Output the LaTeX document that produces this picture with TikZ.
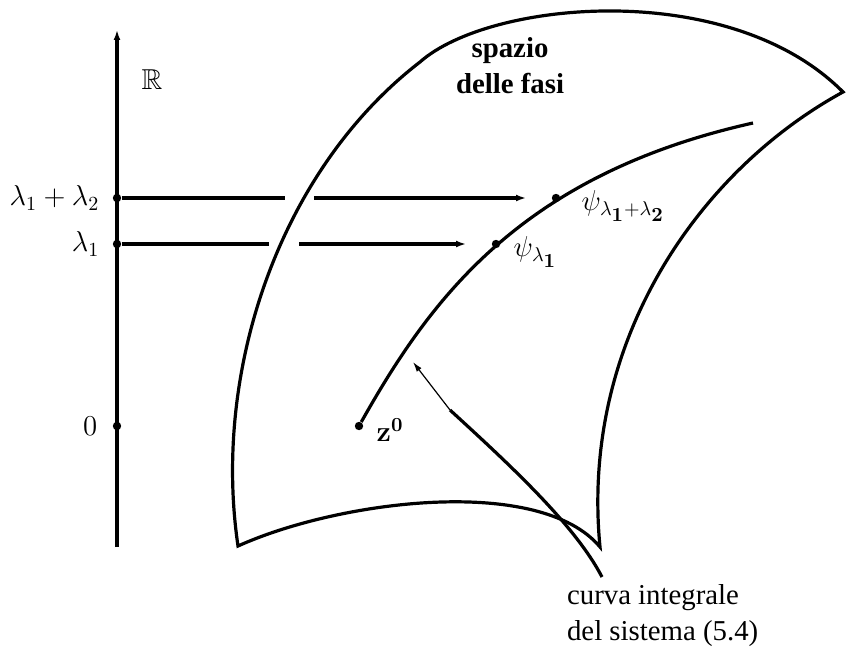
\documentclass[tikz,border=0pt]{standalone}
\usepackage{amsmath}
\usepackage{amssymb}
\usepackage[no-math]{fontspec}
\setmainfont{Liberation Serif}
\usepackage{tikz}
\usetikzlibrary{arrows.meta, positioning}

\begin{document}
\begin{tikzpicture}[x=0.5pt, y=-0.5pt, font=\Large,
    bordo/.style={line width=1.6pt},
    freccia/.style={line width=1.6pt, -{Latex[length=5pt, width=3.5pt]}},
    punto/.style={circle, fill, inner sep=0pt, minimum size=4.2pt}]
    \useasboundingbox (0,0) rectangle (855,647);

    \coordinate (base) at (117,547);
    \coordinate (cima) at (117,30);
    \draw[freccia] (base) -- (cima);
    \node (R) at (152,80) {$\mathbb{R}$};

    \node[punto] (zero) at (117,426) {};
    \node[punto] (lam1) at (117,244) {};
    \node[punto] (lam12) at (117,198) {};
    \node[left=4pt of zero] (tzero) {$0$};
    \node[left=3pt of lam1] (tlam1) {$\lambda_1$};
    \node[left=3pt of lam12] (tlam12) {$\lambda_1+\lambda_2$};

    \draw[bordo] (238,546) .. controls (212,370) and (280,170) .. (420,62)
        .. controls (490,0) and (730,-22) .. (843,92)
        .. controls (700,170) and (580,340) .. (600,547)
        .. controls (540,475) and (340,500) .. cycle;
    \node[align=center, font=\Large\bfseries] (spazio) at (510,66) {spazio\\delle fasi};

    \node[punto] (z0) at (359,426) {};
    \node[right=3pt of z0, yshift=-2pt] (tz0) {$\mathbf{z}^{\mathbf{0}}$};
    \draw[bordo] (z0) .. controls (430,300) and (520,175) .. (753,123);
    \node[punto] (psi1) at (496,244) {};
    \node[punto] (psi12) at (556,198) {};
    \node[right=3pt of psi1, yshift=-4pt] (tpsi1) {$\psi_{\lambda_{\scriptstyle\mathbf{1}}}$};
    \node[right=7pt of psi12, yshift=-4pt] (tpsi12) {$\psi_{\lambda_{\scriptstyle\mathbf{1}}+\lambda_{\scriptstyle\mathbf{2}}}$};

    \coordinate (a12) at (285,198);
    \coordinate (b12) at (314,198);
    \coordinate (f12) at (526,198);
    \coordinate (a1) at (269,244);
    \coordinate (b1) at (299,244);
    \coordinate (f1) at (466,244);
    \draw[bordo] (lam12) -- (a12);
    \draw[freccia] (b12) -- (f12);
    \draw[bordo] (lam1) -- (a1);
    \draw[freccia] (b1) -- (f1);

    \coordinate (gomito) at (450,410);
    \coordinate (punta) at (413,362);
    \coordinate (coda) at (602,577);
    \draw[line width=0.6pt, -{Latex[length=5pt, width=3pt]}] (gomito) -- (punta);
    \draw[bordo] (gomito) .. controls (510,465) and (575,525) .. (coda);
    \node[anchor=west, align=left] (curva) at (560,616) {curva integrale\\del sistema (5.4)};
\end{tikzpicture}
\end{document}
